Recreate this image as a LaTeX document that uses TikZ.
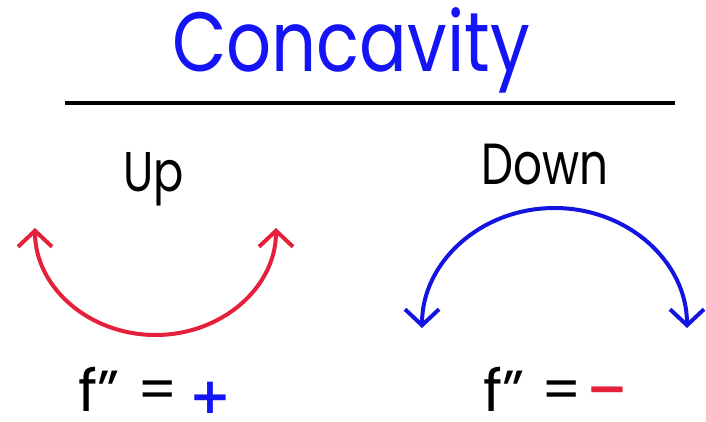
\documentclass[tikz,border=0pt]{standalone}
\usepackage{fontspec}
\setmainfont{Poppins}
\newfontfamily\signfont{DejaVu Sans}
\usetikzlibrary{arrows.meta}
\definecolor{titleblue}{RGB}{20,20,245}
\definecolor{arcred}{RGB}{228,32,58}
\definecolor{arcblue}{RGB}{20,20,225}
\begin{document}
\begin{tikzpicture}[x=1pt,y=-1pt,
  lbl/.style={inner sep=0pt,anchor=base,text=black},
  curvearrow/.style={line width=4pt,{Straight Barb[length=16pt,width=34pt,line width=4pt]}-{Straight Barb[length=16pt,width=34pt,line width=4pt]}},
  signtxt/.style={inner sep=0pt,anchor=center,font=\signfont\bfseries\fontsize{50}{50}\selectfont}]
\useasboundingbox (0,0) rectangle (706,422);
\node[lbl,text=titleblue,font=\fontsize{84}{84}\selectfont,xscale=0.84] (title) at (351,72) {Concavity};
\coordinate (ruleL) at (65,103);
\coordinate (ruleR) at (675,103);
\draw[line width=3.5pt] (ruleL) -- (ruleR);
\node[lbl,font=\fontsize{56}{56}\selectfont,xscale=0.8] (up) at (154,192) {Up};
\node[lbl,font=\fontsize{58}{58}\selectfont,xscale=0.78] (down) at (545,185) {Down};
\coordinate (redL) at (35,228);
\coordinate (blueL) at (422,328);
\draw[curvearrow,arcred] (redL) arc[start angle=180,end angle=0,x radius=120.5,y radius=107];
\draw[curvearrow,arcblue] (blueL) arc[start angle=180,end angle=360,x radius=132.5,y radius=120];
\node[lbl,anchor=base west,font=\fontsize{58}{58}\selectfont] (fL) at (78,411) {f"};
\node[lbl,font=\fontsize{56}{56}\selectfont] (eqL) at (158,409) {=};
\node[signtxt,text=titleblue] (plus) at (210,398) {+};
\node[lbl,anchor=base west,font=\fontsize{58}{58}\selectfont] (fR) at (483,411) {f"};
\node[lbl,font=\fontsize{56}{56}\selectfont] (eqR) at (562,409) {=};
\node[signtxt,text=arcred] (minus) at (607,396) {−};
\end{tikzpicture}
\end{document}
